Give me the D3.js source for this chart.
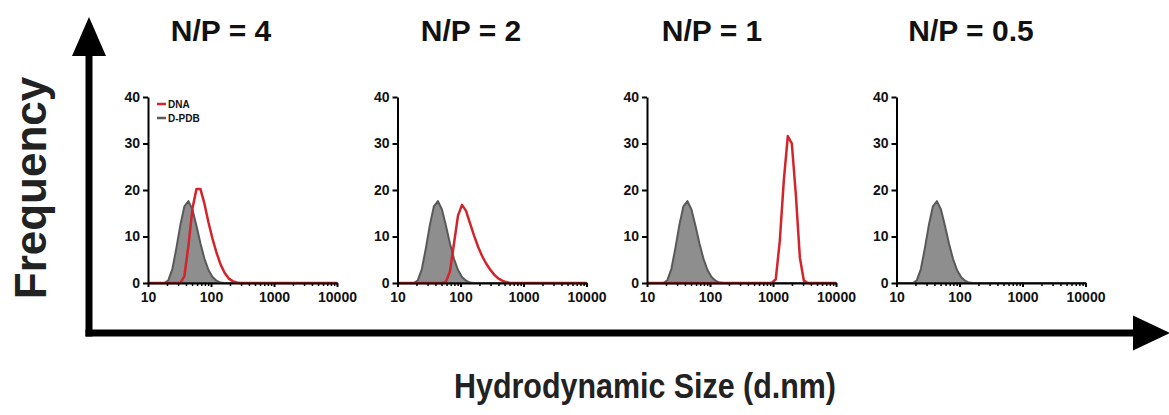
<!DOCTYPE html>
<html>
<head>
<meta charset="utf-8">
<script src="https://cdn.jsdelivr.net/npm/d3@7"></script>
<style>
  html, body { margin: 0; padding: 0; background: #fff; }
  svg { display: block; font-family: "Liberation Sans", Arial, sans-serif; }
</style>
</head>
<body>
<svg id="chart" width="1169" height="415"></svg>
<script>
// Size bins (d.nm) of the DLS intensity distribution
const sizes = [10.10, 11.70, 13.54, 15.69, 18.17, 21.04, 24.36, 28.21, 32.67, 37.84,
  43.82, 50.75, 58.77, 68.06, 78.82, 91.28, 105.7, 122.4, 141.8, 164.2,
  190.1, 220.2, 255.0, 295.3, 342.0, 396.1, 458.7, 531.2, 615.1, 712.4,
  825.0, 955.4, 1106, 1281, 1484, 1718, 1990, 2305, 2669, 3091,
  3580, 4145, 4801, 5560, 6439, 7456, 8635, 10000];

// D-PDB alone (same in every panel)
const dpdb = [0, 0, 0, 0, 0, 0.6, 3.0, 7.5, 12.5, 16.5,
  17.6, 15.8, 12.3, 8.5, 5.2, 2.8, 1.3, 0.5, 0.1, 0,
  0, 0, 0, 0, 0, 0, 0, 0, 0, 0,
  0, 0, 0, 0, 0, 0, 0, 0, 0, 0,
  0, 0, 0, 0, 0, 0, 0, 0];

// DNA complexes at each N/P ratio
const dnaNP4 = [0, 0, 0, 0, 0, 0, 0, 0, 0, 1.5,
  8.0, 16.0, 20.2, 20.2, 17.0, 13.0, 9.5, 6.5, 4.0, 2.2,
  1.0, 0.4, 0.1, 0, 0, 0, 0, 0, 0, 0,
  0, 0, 0, 0, 0, 0, 0, 0, 0, 0,
  0, 0, 0, 0, 0, 0, 0, 0];

const dnaNP2 = [0, 0, 0, 0, 0, 0, 0, 0, 0, 0,
  0, 0, 0.3, 2.5, 8.5, 14.5, 16.8, 15.5, 12.8, 10.2,
  7.8, 5.8, 4.2, 2.9, 1.8, 1.0, 0.5, 0.2, 0, 0,
  0, 0, 0, 0, 0, 0, 0, 0, 0, 0,
  0, 0, 0, 0, 0, 0, 0, 0];

const dnaNP1 = [0, 0, 0, 0, 0, 0, 0, 0, 0, 0,
  0, 0, 0, 0, 0, 0, 0, 0, 0, 0,
  0, 0, 0, 0, 0, 0, 0, 0, 0, 0,
  0, 0, 0.8, 9.0, 22.0, 31.6, 30.0, 19.0, 5.5, 0.5,
  0, 0, 0, 0, 0, 0, 0, 0];

const panelTitles = ["N/P = 4", "N/P = 2", "N/P = 1", "N/P = 0.5"];
const panelDna = [dnaNP4, dnaNP2, dnaNP1, null];
const yTicks = [0, 10, 20, 30, 40];
const xTicks = [10, 100, 1000, 10000];
const legendLabels = ["DNA", "D-PDB"];

const RED = "#d3242c";
const GRAY_FILL = "#8e8e8e";
const GRAY_LINE = "#595959";

const svg = d3.select("#chart");

// Panel geometry
const panelLeft = [148, 397.5, 647, 896.5];
const titleCenter = [221, 471, 712, 971];
const plotW = 189, plotTop = 97, plotH = 186;

const x = d3.scaleLog().domain([10, 10000]).range([0, plotW]);
const y = d3.scaleLinear().domain([0, 40]).range([plotH, 0]);

const area = d3.area()
  .x((d, i) => x(sizes[i]))
  .y0(y(0))
  .y1(d => y(d));
const line = d3.line()
  .x((d, i) => x(sizes[i]))
  .y(d => y(d));

panelTitles.forEach((title, p) => {
  const g = svg.append("g").attr("transform", `translate(${panelLeft[p]},${plotTop})`);

  // D-PDB distribution (filled)
  g.append("path").datum(dpdb)
    .attr("d", area)
    .attr("fill", GRAY_FILL)
    .attr("stroke", GRAY_LINE)
    .attr("stroke-width", 2)
    .attr("stroke-linejoin", "round");

  // DNA distribution
  if (panelDna[p]) {
    g.append("path").datum(panelDna[p])
      .attr("d", line)
      .attr("fill", "none")
      .attr("stroke", RED)
      .attr("stroke-width", 2.5)
      .attr("stroke-linejoin", "round");
  }

  // y axis
  const ya = g.append("g")
    .call(d3.axisLeft(y).tickValues(yTicks).tickSize(5).tickSizeOuter(0).tickPadding(3));
  ya.select(".domain").attr("stroke-width", 2);
  ya.selectAll(".tick line").attr("stroke-width", 2);
  ya.selectAll("text").attr("font-size", 14).attr("font-weight", "bold").attr("fill", "#111");

  // x axis: minor ticks then labelled decades
  const minor = x.ticks().filter(v => !xTicks.includes(v));
  const xm = g.append("g").attr("transform", `translate(0,${plotH})`)
    .call(d3.axisBottom(x).tickValues(minor).tickSize(3).tickFormat(""));
  xm.select(".domain").remove();
  xm.selectAll(".tick line").attr("stroke-width", 1.5);

  const xa = g.append("g").attr("transform", `translate(0,${plotH})`)
    .call(d3.axisBottom(x).tickValues(xTicks).tickSize(4).tickSizeOuter(0).tickPadding(5).tickFormat(d3.format("d")));
  xa.select(".domain").attr("stroke-width", 2);
  xa.selectAll(".tick line").attr("stroke-width", 2);
  xa.selectAll("text").attr("font-size", 14).attr("font-weight", "bold").attr("fill", "#111");

  // Panel title
  svg.append("text")
    .attr("x", titleCenter[p])
    .attr("y", 41)
    .attr("text-anchor", "middle")
    .attr("font-size", 30)
    .attr("font-weight", "bold")
    .attr("fill", "#111")
    .text(title);

  // Legend in the first panel
  if (p === 0) {
    const lg = g.append("g").attr("transform", "translate(9,7)");
    [RED, GRAY_LINE].forEach((c, i) => {
      lg.append("line")
        .attr("x1", 0).attr("x2", 9)
        .attr("y1", i * 14).attr("y2", i * 14)
        .attr("stroke", c).attr("stroke-width", 2.5);
      lg.append("text")
        .attr("x", 11).attr("y", i * 14 + 3.5)
        .attr("font-size", 10)
        .attr("font-weight", "bold")
        .attr("fill", "#111")
        .text(legendLabels[i]);
    });
  }
});

// Big axis arrows
svg.append("line").attr("x1", 89).attr("y1", 336.5).attr("x2", 89).attr("y2", 50)
  .attr("stroke", "#000").attr("stroke-width", 7);
svg.append("path").attr("d", "M72,56 L89,17 L106,56 Z").attr("fill", "#000");
svg.append("line").attr("x1", 85.5).attr("y1", 333).attr("x2", 1137).attr("y2", 333)
  .attr("stroke", "#000").attr("stroke-width", 7);
svg.append("path").attr("d", "M1133,315.5 L1170,333 L1133,350.5 Z").attr("fill", "#000");

// Axis titles
svg.append("text")
  .attr("transform", "translate(46,188) rotate(-90)")
  .attr("text-anchor", "middle")
  .attr("font-size", 44)
  .attr("font-weight", "bold")
  .attr("fill", "#222")
  .text("Frequency");

svg.append("text")
  .attr("x", 645)
  .attr("y", 398)
  .attr("text-anchor", "middle")
  .attr("font-size", 35)
  .attr("font-weight", "bold")
  .attr("fill", "#222")
  .attr("textLength", 382)
  .attr("lengthAdjust", "spacingAndGlyphs")
  .text("Hydrodynamic Size (d.nm)");
</script>
</body>
</html>
